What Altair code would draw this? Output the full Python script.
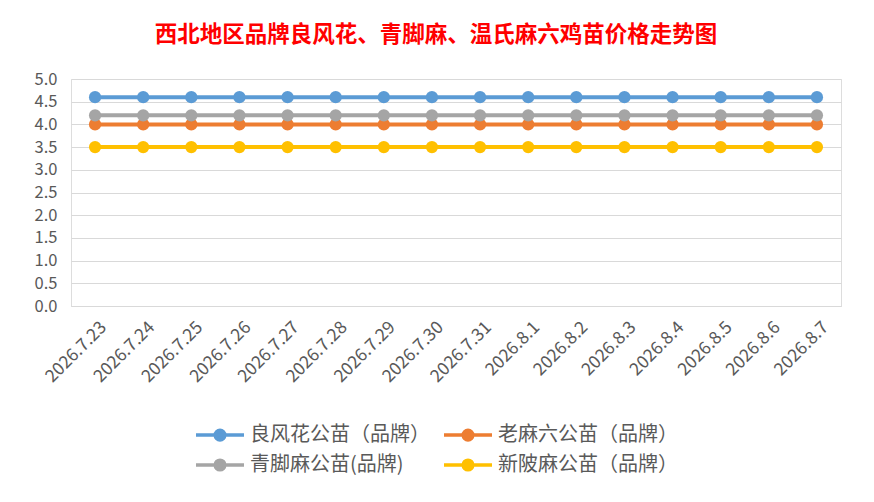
import altair as alt
import pandas as pd

dates = ["2026.7.23", "2026.7.24", "2026.7.25", "2026.7.26", "2026.7.27", "2026.7.28",
         "2026.7.29", "2026.7.30", "2026.7.31", "2026.8.1", "2026.8.2", "2026.8.3",
         "2026.8.4", "2026.8.5", "2026.8.6", "2026.8.7"]
series_names = ["良风花公苗（品牌）", "老麻六公苗（品牌）", "青脚麻公苗(品牌)", "新陂麻公苗（品牌）"]
liangfenghua = [4.6] * 16
laomaliu = [4.0] * 16
qingjiaoma = [4.2] * 16
xinpima = [3.5] * 16
colors = ["#5B9BD5", "#ED7D31", "#A5A5A5", "#FFC000"]

# legend fills column by column, so order entries to read row-wise like the reference
legend_order = [series_names[0], series_names[2], series_names[1], series_names[3]]
legend_colors = [colors[0], colors[2], colors[1], colors[3]]

rows = []
for name, vals in zip(series_names, [liangfenghua, laomaliu, qingjiaoma, xinpima]):
    for d, v in zip(dates, vals):
        rows.append({"date": d, "series": name, "price": v})
df = pd.DataFrame(rows)

FONT = "Noto Sans CJK SC"
sym_path = "M-1.5,0L1.5,0M-0.3,0a0.3,0.3 0 1,0 0.6,0a0.3,0.3 0 1,0 -0.6,0"

base = alt.Chart(df).encode(
    x=alt.X("date:N", sort=dates, title=None,
            scale=alt.Scale(paddingInner=1, paddingOuter=0.5),
            axis=alt.Axis(labelAngle=-45, labelAlign="right", labelBaseline="top",
                          labelFontSize=17.5, labelColor="#595959", labelFont=FONT,
                          ticks=False, domainColor="#D9D9D9", labelPadding=12,
                          labelOffset=2, grid=False)),
    y=alt.Y("price:Q", title=None,
            scale=alt.Scale(domain=[0, 5], nice=False),
            axis=alt.Axis(values=[0, 0.5, 1, 1.5, 2, 2.5, 3, 3.5, 4, 4.5, 5], format=".1f",
                          labelFontSize=16.5, labelColor="#595959", labelFont=FONT,
                          ticks=False, domain=False, gridColor="#D9D9D9",
                          labelPadding=14)),
    color=alt.Color("series:N", scale=alt.Scale(domain=legend_order, range=legend_colors),
                    legend=alt.Legend(title=None, orient="none", legendX=131, legendY=338,
                                      columns=2, symbolType=sym_path, symbolSize=1024,
                                      symbolStrokeWidth=3.5, labelFontSize=20,
                                      labelFont=FONT, labelColor="#595959",
                                      columnPadding=7, rowPadding=0, labelOffset=12,
                                      labelLimit=300)),
)

lines = base.mark_line(strokeWidth=4)
points = base.mark_circle(size=150, opacity=1)

chart = alt.layer(lines, points).properties(
    width=770, height=227,
    autosize=alt.AutoSizeParams(type="none"),
    padding={"left": 63, "top": 71, "right": 25, "bottom": 180},
    title=alt.Title("西北地区品牌良风花、青脚麻、温氏麻六鸡苗价格走势图",
                    color="#FF0000", fontSize=22.5, font="Noto Sans CJK SC",
                    fontWeight="bold", anchor="middle", dx=-20, offset=25),
).configure_view(stroke=None).configure(background="white")

chart.save("out.html", embed_options={"renderer": "svg", "actions": False})
